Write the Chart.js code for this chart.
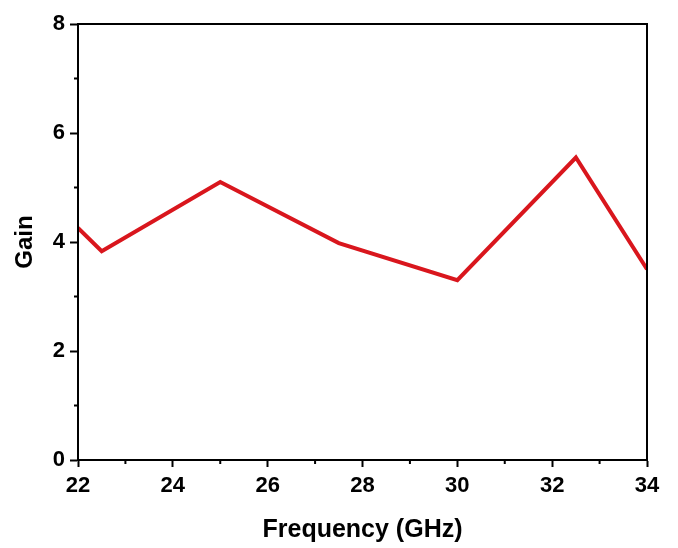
<!DOCTYPE html>
<html>
<head>
<meta charset="utf-8">
<script src="https://cdn.jsdelivr.net/npm/chart.js@4"></script>
<style>
  html, body { margin: 0; padding: 0; background: #fff; }
  #wrap { width: 678px; height: 548px; }
</style>
</head>
<body>
<div id="wrap"><canvas id="gainChart" width="678" height="548"></canvas></div>
<script>
// data
var frequency = [22, 22.5, 25, 27.5, 30, 32.5, 34];
var gain = [4.26, 3.83, 5.1, 3.98, 3.3, 5.55, 3.5];
var xTicks = [22, 24, 26, 28, 30, 32, 34];
var yTicks = [0, 2, 4, 6, 8];

var fontFamily = '"Liberation Sans", Arial, sans-serif';

// box around the plot + short minor ticks
var frameAndMinor = {
  id: 'frameAndMinor',
  afterDraw: function (chart) {
    var ctx = chart.ctx;
    var a = chart.chartArea;
    var xs = chart.scales.x, ys = chart.scales.y;
    ctx.save();
    ctx.strokeStyle = '#000';
    ctx.lineWidth = 2;
    ctx.strokeRect(a.left, a.top, a.right - a.left, a.bottom - a.top);
    ctx.beginPath();
    for (var v = 23; v < 34; v += 2) {
      var px = xs.getPixelForValue(v);
      ctx.moveTo(px, a.bottom);
      ctx.lineTo(px, a.bottom + 4);
    }
    for (var w = 1; w < 8; w += 2) {
      var py = ys.getPixelForValue(w);
      ctx.moveTo(a.left, py);
      ctx.lineTo(a.left - 4, py);
    }
    ctx.stroke();
    ctx.restore();
  }
};

document.addEventListener('DOMContentLoaded', function () {
  var ctx = document.getElementById('gainChart').getContext('2d');

  var points = frequency.map(function (f, i) { return { x: f, y: gain[i] }; });

  new Chart(ctx, {
    type: 'line',
    data: {
      datasets: [{
        label: 'Gain',
        data: points,
        borderColor: '#d9161d',
        borderWidth: 4,
        pointRadius: 0,
        tension: 0,
        fill: false
      }]
    },
    options: {
      responsive: false,
      animation: false,
      layout: { padding: { left: 0, right: 31, top: 24, bottom: 0 } },
      plugins: {
        legend: { display: false },
        tooltip: { enabled: false }
      },
      scales: {
        x: {
          type: 'linear',
          min: 22,
          max: 34,
          afterBuildTicks: function (scale) {
            scale.ticks = xTicks.map(function (v) { return { value: v }; });
          },
          afterFit: function (scale) { scale.height = 88; },
          grid: {
            drawOnChartArea: false,
            tickLength: 7,
            tickWidth: 2,
            tickColor: '#000'
          },
          border: { color: '#000', width: 2 },
          ticks: {
            color: '#000',
            padding: 6,
            maxRotation: 0,
            font: { family: fontFamily, size: 22, weight: 'bold' }
          },
          title: {
            display: true,
            text: 'Frequency (GHz)',
            color: '#000',
            padding: { top: 0, bottom: 3 },
            font: { family: fontFamily, size: 25, weight: 'bold' }
          }
        },
        y: {
          type: 'linear',
          min: 0,
          max: 8,
          afterBuildTicks: function (scale) {
            scale.ticks = yTicks.map(function (v) { return { value: v }; });
          },
          afterFit: function (scale) { scale.width = 78; },
          grid: {
            drawOnChartArea: false,
            tickLength: 8,
            tickWidth: 2,
            tickColor: '#000'
          },
          border: { color: '#000', width: 2 },
          ticks: {
            color: '#000',
            padding: 5,
            font: { family: fontFamily, size: 22, weight: 'bold' }
          },
          title: {
            display: true,
            text: 'Gain',
            color: '#000',
            padding: { top: 11, bottom: 0 },
            font: { family: fontFamily, size: 24, weight: 'bold' }
          }
        }
      }
    },
    plugins: [frameAndMinor]
  });
});
</script>
</body>
</html>
